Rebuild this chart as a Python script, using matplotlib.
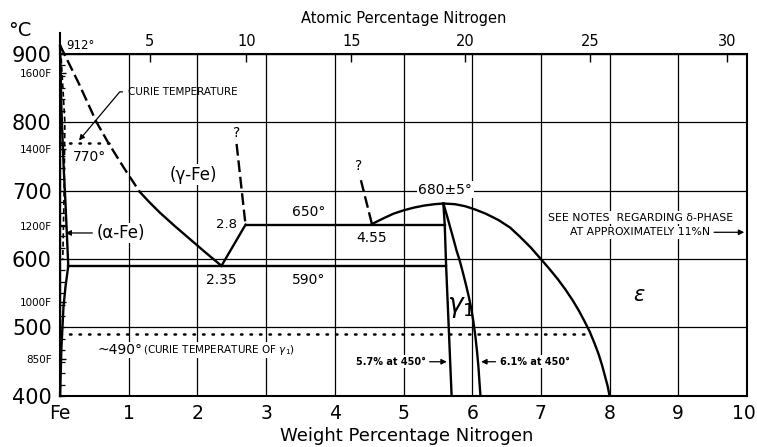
import numpy as np
import matplotlib
matplotlib.use('Agg')
import matplotlib.pyplot as plt
import matplotlib.transforms as mtransforms

plt.rcParams['font.family'] = ['DejaVu Sans']
plt.rcParams['mathtext.fontset'] = 'dejavusans'

#-----------------------------------------------------------------------
# phase boundaries (weight % N, deg C)
gam_left_wt_dash = [0.0, 0.27, 0.53, 0.70, 0.93, 1.16]
gam_left_t_dash = [912, 857, 800, 770, 733, 698]
gam_left_wt = [1.16, 1.30, 1.45, 1.66, 1.88, 2.10, 2.35]
gam_left_t = [698, 683, 668, 649, 630, 611, 590]

gam_right_wt_dash = [2.57, 2.70]
gam_right_t_dash = [768, 650]
gam_right_wt = [2.70, 2.35]
gam_right_t = [650, 590]

alpha_wt = [0.0, 0.02, 0.05, 0.08, 0.12, 0.08, 0.05, 0.02, 0.0]
alpha_t = [912, 820, 740, 680, 590, 560, 530, 470, 400]
alpha_dash_wt = [0.01, 0.07, 0.06, 0.04]
alpha_dash_t = [905, 800, 700, 600]

iso650_wt = [2.70, 5.60]
iso650_t = [650, 650]
iso590_wt = [0.12, 5.62]
iso590_t = [590, 590]

eps_wt = [4.54, 4.70, 4.85, 5.00, 5.15, 5.30, 5.45, 5.58, 5.75, 5.90, 6.05,
          6.20, 6.38, 6.55, 6.70, 6.85, 6.99, 7.12, 7.25, 7.36, 7.46, 7.55,
          7.63, 7.71, 7.78, 7.84, 7.89, 7.93, 7.97, 8.00]
eps_t = [651, 659, 666, 671, 675, 678, 680, 681, 680, 677, 672,
         666, 657, 646, 632, 617, 601, 586, 570, 555, 540, 525,
         510, 494, 477, 461, 445, 430, 415, 400]
eps_dash_wt = [4.38, 4.54]
eps_dash_t = [715, 651]

gp_left_wt = [5.58, 5.60, 5.62, 5.66, 5.70]
gp_left_t = [681, 650, 590, 496, 400]
gp_right_wt = [5.58, 5.63, 5.68, 5.73, 5.77, 5.82, 5.87, 5.91, 5.95, 5.985,
               6.015, 6.045, 6.07, 6.09, 6.105, 6.12]
gp_right_t = [681, 664, 646, 628, 613, 597, 578, 562, 545, 528,
              510, 488, 465, 443, 421, 400]

curie_alpha_wt = [0.0, 0.77]
curie_alpha_t = [770, 770]
curie_gp_wt = [0.0, 7.72]
curie_gp_t = [490, 490]

# axes
x_ticks = [0, 1, 2, 3, 4, 5, 6, 7, 8, 9, 10]
x_labels = ['Fe', '1', '2', '3', '4', '5', '6', '7', '8', '9', '10']
y_ticks = [400, 500, 600, 700, 800, 900]
f_temps = [1600, 1400, 1200, 1000, 850]
at_ticks = [5, 10, 15, 20, 25, 30]


def wt2at(w):
    w = np.asarray(w, float)
    n = w/14.007
    fe = (100-w)/55.845
    return 100*n/(n+fe)


def at2wt(a):
    a = np.asarray(a, float)
    return 100*a*14.007/(a*14.007+(100-a)*55.845)


#-----------------------------------------------------------------------
fig = plt.figure(figsize=(7.57, 4.47), dpi=100)
ax = fig.add_axes([0.0793, 0.1141, 0.9075, 0.7662])
ax.set_xlim(0, 10)
ax.set_ylim(400, 900)

ax.set_xticks(x_ticks)
ax.set_xticklabels(x_labels, fontsize=13.5)
ax.set_yticks(y_ticks)
ax.set_yticklabels([str(t) for t in y_ticks], fontsize=15)
ax.tick_params(axis='both', which='major', length=0, pad=6)
f_c = [(f-32)*5/9 for f in f_temps]
ax.set_yticks(f_c, minor=True)
ax.set_yticklabels(['%dF' % f for f in f_temps], minor=True, fontsize=7.5)
ax.tick_params(axis='y', which='minor', direction='in', length=4, width=1, pad=6)
ax.grid(True, which='major', color='black', lw=0.9, zorder=1)
ax.set_axisbelow(True)
for s in ax.spines.values():
    s.set_linewidth(1.5)

# nudge the last label so it stays inside the picture
last = ax.get_xticklabels()[-1]
last.set_transform(last.get_transform() +
                   mtransforms.ScaledTranslation(-3/100, 0, fig.dpi_scale_trans))

# small ladder ticks on the iron side
ladder = ax.secondary_yaxis('left')
ladder.set_yticks(np.arange(400, 901, 100/6))
ladder.tick_params(direction='in', length=3.5, width=0.9, labelleft=False)

top = ax.secondary_xaxis('top', functions=(wt2at, at2wt))
top.set_xticks(at_ticks)
top.tick_params(direction='in', length=6, width=1, labelsize=10.5, pad=3)

ax.plot([0, 0], [900, 930], color='black', lw=1.5, clip_on=False)

# boundaries
kw = dict(color='black', lw=1.7, zorder=3, solid_joinstyle='round')
ax.plot(gam_left_wt_dash, gam_left_t_dash, dashes=(5, 2), clip_on=False, **kw)
ax.plot(gam_left_wt, gam_left_t, **kw)
ax.plot(gam_right_wt_dash, gam_right_t_dash, dashes=(5, 2), **kw)
ax.plot(gam_right_wt, gam_right_t, **kw)
ax.plot(alpha_wt, alpha_t, clip_on=False, **kw)
ax.plot(alpha_dash_wt, alpha_dash_t, dashes=(3, 2), color='black', lw=1.2, zorder=3)
ax.plot(iso650_wt, iso650_t, **kw)
ax.plot(iso590_wt, iso590_t, **kw)
ax.plot(eps_wt, eps_t, **kw)
ax.plot(eps_dash_wt, eps_dash_t, dashes=(5, 2), **kw)
ax.plot(gp_left_wt, gp_left_t, **kw)
ax.plot(gp_right_wt, gp_right_t, **kw)
ax.plot(curie_alpha_wt, curie_alpha_t, color='black', lw=1.8, dashes=(0.6, 3.2),
        dash_capstyle='round', zorder=3)
ax.plot(curie_gp_wt, curie_gp_t, color='black', lw=1.8, dashes=(0.6, 3.2),
        dash_capstyle='round', zorder=3)

#-----------------------------------------------------------------------
# labels
wb = dict(facecolor='white', edgecolor='none', pad=1)
ax.text(0.29, 912, '912°', fontsize=8.5, ha='center', va='center', clip_on=False)
ax.text(0.43, 749, '770°', fontsize=10, ha='center', va='center')
ax.text(1.94, 723, '(γ-Fe)', fontsize=12, ha='center', va='center', bbox=wb)
ax.text(2.57, 784, '?', fontsize=10, ha='center', va='center')
ax.text(4.35, 736, '?', fontsize=10, ha='center', va='center')
ax.text(2.43, 651, '2.8', fontsize=9.5, ha='center', va='center')
ax.text(3.62, 669, '650°', fontsize=10, ha='center', va='center')
ax.text(4.54, 631, '4.55', fontsize=10, ha='center', va='center')
ax.text(5.61, 701, '680±5°', fontsize=10, ha='center', va='center', bbox=wb)
ax.text(2.35, 569, '2.35', fontsize=10, ha='center', va='center')
ax.text(3.62, 569, '590°', fontsize=10, ha='center', va='center')
ax.text(5.83, 530, r'$\gamma_1$', fontsize=19, ha='center', va='center')
ax.text(8.43, 547, r'$\epsilon$', fontsize=15, ha='center', va='center')

ax.annotate('CURIE TEMPERATURE', xy=(0.25, 770), xytext=(0.99, 844),
            fontsize=7.5, ha='left', va='center',
            arrowprops=dict(arrowstyle='-|>', color='black', lw=0.9,
                            mutation_scale=8,
                            connectionstyle='angle,angleA=0,angleB=50,rad=0'))
ax.annotate('(α-Fe)', xy=(0.04, 638), xytext=(0.53, 638), fontsize=12,
            ha='left', va='center', bbox=wb,
            arrowprops=dict(arrowstyle='-|>', color='black', lw=0.9, mutation_scale=8))

ax.text(0.54, 467, '~490°', fontsize=10, ha='left', va='center', bbox=wb)
ax.text(1.21, 467, r'(CURIE TEMPERATURE OF $\gamma_1$)', fontsize=7.5,
        ha='left', va='center', bbox=wb)

ax.annotate('5.7% at 450°', xy=(5.67, 450), xytext=(5.32, 450), fontsize=7,
            fontweight='bold', ha='right', va='center', bbox=wb,
            arrowprops=dict(arrowstyle='-|>', color='black', lw=0.9, mutation_scale=8))
ax.annotate('6.1% at 450°', xy=(6.09, 450), xytext=(6.40, 450), fontsize=7,
            fontweight='bold', ha='left', va='center', bbox=wb,
            arrowprops=dict(arrowstyle='-|>', color='black', lw=0.9, mutation_scale=8))

ax.text(8.45, 660, 'SEE NOTES  REGARDING δ-PHASE', fontsize=7.8, ha='center',
        va='center', bbox=wb)
ax.annotate('AT APPROXIMATELY 11%N', xy=(10, 639), xytext=(9.46, 639), fontsize=7.8,
            ha='right', va='center', bbox=wb,
            arrowprops=dict(arrowstyle='-|>', color='black', lw=0.9, mutation_scale=8))

fig.text(20/757, 1-30/447, '°C', fontsize=14, ha='center', va='center')
fig.text(404/757, 1-18/447, 'Atomic Percentage Nitrogen', fontsize=10.5,
         ha='center', va='center')
fig.text(407/757, 1-436/447, 'Weight Percentage Nitrogen', fontsize=13,
         ha='center', va='center')

plt.savefig('out.png', dpi=100)
